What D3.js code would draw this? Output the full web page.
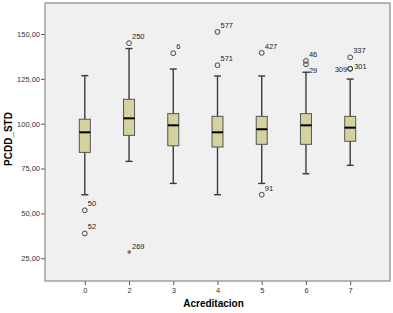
<!DOCTYPE html>
<html>
<head>
<meta charset="utf-8">
<script src="https://cdn.jsdelivr.net/npm/d3@7"></script>
<style>
  body { margin: 0; background: #fff; }
  svg text { font-family: "Liberation Sans", Arial, sans-serif; }
</style>
</head>
<body>
<script>
// boxplot values
var categories = ["0", "2", "3", "4", "5", "6", "7"];
var whiskerLow  = [60.4, 79.0, 66.7, 60.4, 66.7, 72.1, 76.8];
var q1          = [84.0, 93.5, 87.7, 87.0, 88.5, 88.5, 90.2];
var median      = [95.2, 103.0, 99.1, 95.2, 96.9, 99.1, 97.8];
var q3          = [102.5, 113.6, 105.6, 104.1, 104.1, 105.6, 104.1];
var whiskerHigh = [126.8, 141.9, 130.5, 126.6, 126.6, 128.7, 124.9];

var outCat   = ["0", "0", "2", "3", "4", "4", "5", "5", "6", "6", "7", "7", "7"];
var outValue = [51.7, 38.8, 144.9, 139.3, 151.2, 132.6, 139.5, 60.4, 135.0, 133.1, 137.0, 130.7, 130.6];
var outLabel = ["50", "52", "250", "6", "577", "571", "427", "91", "46", "29", "337", "309", "301"];

var extCat   = ["2"];
var extValue = [28.0];
var extLabel = ["269"];

var yTicks = [25, 50, 75, 100, 125, 150];

var margin = {top: 3, right: 3, bottom: 32, left: 45},
    width = 393 - margin.left - margin.right,
    height = 313 - margin.top - margin.bottom;

var svg = d3.select("body").append("svg")
    .attr("width", 393)
    .attr("height", 313)
  .append("g")
    .attr("transform", "translate(" + margin.left + "," + margin.top + ")");

var x = d3.scalePoint().domain(categories).range([0, width]).padding(0.9);
var y = d3.scaleLinear().domain([12.3, 167.3]).range([height, 0]);

svg.append("rect")
    .attr("width", width)
    .attr("height", height)
    .attr("fill", "#f0f0f0");

var fmt = function(d) { return d3.format(".2f")(d).replace(".", ","); };

var yAxis = svg.append("g")
    .call(d3.axisLeft(y).tickValues(yTicks).tickFormat(fmt).tickSize(4).tickPadding(1));
yAxis.select(".domain").remove();
yAxis.selectAll("line").attr("stroke", "#555");
yAxis.selectAll("text").attr("fill", "#333").style("font-size", "7.5px");

var xAxis = svg.append("g")
    .attr("transform", "translate(0," + height + ")")
    .call(d3.axisBottom(x).tickSize(4).tickPadding(3));
xAxis.select(".domain").remove();
xAxis.selectAll("line").attr("stroke", "#555");
xAxis.selectAll("text").attr("fill", "#333").style("font-size", "7.5px");

// frame
svg.append("rect")
    .attr("width", width)
    .attr("height", height)
    .attr("fill", "none")
    .attr("stroke", "#8a8a8a")
    .attr("stroke-width", 1.2);

var boxW = 11, capW = 7;
var data = categories.map(function(c, i) {
  return {c: c, lo: whiskerLow[i], q1: q1[i], med: median[i], q3: q3[i], hi: whiskerHigh[i]};
});

var g = svg.selectAll(".box").data(data).enter().append("g").attr("class", "box");

g.append("line")
    .attr("x1", function(d) { return x(d.c); }).attr("x2", function(d) { return x(d.c); })
    .attr("y1", function(d) { return y(d.hi); }).attr("y2", function(d) { return y(d.lo); })
    .attr("stroke", "#3a3a3a").attr("stroke-width", 1.4);
g.append("line")
    .attr("x1", function(d) { return x(d.c) - capW / 2; }).attr("x2", function(d) { return x(d.c) + capW / 2; })
    .attr("y1", function(d) { return y(d.hi); }).attr("y2", function(d) { return y(d.hi); })
    .attr("stroke", "#3a3a3a").attr("stroke-width", 1.4);
g.append("line")
    .attr("x1", function(d) { return x(d.c) - capW / 2; }).attr("x2", function(d) { return x(d.c) + capW / 2; })
    .attr("y1", function(d) { return y(d.lo); }).attr("y2", function(d) { return y(d.lo); })
    .attr("stroke", "#3a3a3a").attr("stroke-width", 1.4);
g.append("rect")
    .attr("x", function(d) { return x(d.c) - boxW / 2; })
    .attr("width", boxW)
    .attr("y", function(d) { return y(d.q3); })
    .attr("height", function(d) { return y(d.q1) - y(d.q3); })
    .attr("fill", "#d5d2a0")
    .attr("stroke", "#555").attr("stroke-width", 1);
g.append("line")
    .attr("x1", function(d) { return x(d.c) - boxW / 2; }).attr("x2", function(d) { return x(d.c) + boxW / 2; })
    .attr("y1", function(d) { return y(d.med); }).attr("y2", function(d) { return y(d.med); })
    .attr("stroke", "#000").attr("stroke-width", 2);

// outliers
var outs = outCat.map(function(c, i) { return {c: c, v: outValue[i], label: outLabel[i]}; });
svg.selectAll(".out").data(outs).enter().append("circle")
    .attr("cx", function(d) { return x(d.c); })
    .attr("cy", function(d) { return y(d.v); })
    .attr("r", 2.4)
    .attr("fill", "none")
    .attr("stroke", "#444").attr("stroke-width", 1);

// label placement tweaks for the crowded ones
var place = {"29": [3, 9, "start"], "309": [-3, 3, "end"], "301": [4, 0, "start"], "91": [3, -4, "start"]};
svg.selectAll(".outlab").data(outs).enter().append("text")
    .attr("x", function(d) { return x(d.c) + (place[d.label] ? place[d.label][0] : 3); })
    .attr("y", function(d) { return y(d.v) + (place[d.label] ? place[d.label][1] : -4); })
    .attr("text-anchor", function(d) { return place[d.label] ? place[d.label][2] : "start"; })
    .style("font-size", "7.5px")
    .attr("fill", "#222")
    .text(function(d) { return d.label; });

var exts = extCat.map(function(c, i) { return {c: c, v: extValue[i], label: extLabel[i]}; });
svg.selectAll(".ext").data(exts).enter().append("text")
    .attr("x", function(d) { return x(d.c); })
    .attr("y", function(d) { return y(d.v) + 5; })
    .attr("text-anchor", "middle")
    .style("font-size", "11px")
    .attr("fill", "#333")
    .text("*");
svg.selectAll(".extlab").data(exts).enter().append("text")
    .attr("x", function(d) { return x(d.c) + 3; })
    .attr("y", function(d) { return y(d.v) - 4; })
    .style("font-size", "7.5px")
    .attr("fill", "#222")
    .text(function(d) { return d.label; });

// axis titles
svg.append("text")
    .attr("transform", "rotate(-90)")
    .attr("x", -139 + margin.top)
    .attr("y", -33)
    .attr("text-anchor", "middle")
    .style("font-size", "10px")
    .style("font-weight", "bold")
    .text("PCDD_STD");

svg.append("text")
    .attr("x", width / 2 - 4)
    .attr("y", height + 26)
    .attr("text-anchor", "middle")
    .style("font-size", "10px")
    .style("font-weight", "bold")
    .text("Acreditacion");
</script>
</body>
</html>
